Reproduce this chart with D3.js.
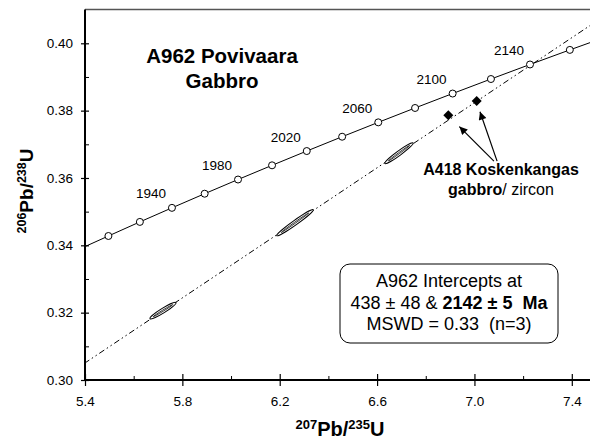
<!DOCTYPE html>
<html>
<head>
<meta charset="utf-8">
<script src="https://cdn.jsdelivr.net/npm/d3@7"></script>
<style>
  body { margin: 0; background: #fff; }
  text { font-family: "Liberation Sans", Arial, sans-serif; }
</style>
</head>
<body>
<div id="canvas"></div>
<script>
// concordia points, every 20 Ma
let ages = [1900, 1920, 1940, 1960, 1980, 2000, 2020, 2040, 2060, 2080, 2100, 2120, 2140, 2160];
let concX = [5.4962, 5.6254, 5.7572, 5.8916, 6.0287, 6.1685, 6.3111, 6.4565, 6.6049, 6.7561, 6.9104, 7.0678, 7.2283, 7.3919];
let concY = [0.34277, 0.34695, 0.35113, 0.35533, 0.35954, 0.36376, 0.36800, 0.37225, 0.37652, 0.38079, 0.38508, 0.38939, 0.39371, 0.39804];
let labelAges = [1940, 1980, 2020, 2060, 2100, 2140];

// curve ends (1885 Ma and 2180 Ma)
let curveX = [5.4].concat(concX, [7.5589]);
let curveY = [0.33963].concat(concY, [0.40238]);

// discordia: lower intercept 438 Ma, through upper intercept 2142 Ma
let discX = [0.53935, 7.6];
let discY = [0.07031, 0.41132];

// A962 error ellipses
let ellX = [5.7205, 6.2628, 6.690];
let ellY = [0.3206, 0.34672, 0.36736];
let ellDX = [0.0534, 0.0752, 0.058];
let ellDY = [0.00238, 0.00386, 0.00306];

// A418 zircon points
let diaX = [6.8926, 7.0093];
let diaY = [0.37862, 0.38287];

// arrows: tail -> tip
let arrowTail = [[7.080, 0.3650], [7.093, 0.3650]];
let arrowTip = [[6.938, 0.37526], [7.0228, 0.37969]];

let xMajor = [5.4, 5.8, 6.2, 6.6, 7.0, 7.4];
let xMinor = [5.6, 6.0, 6.4, 6.8, 7.2];
let yMajor = [0.30, 0.32, 0.34, 0.36, 0.38, 0.40];
let yMinor = [0.31, 0.33, 0.35, 0.37, 0.39];

let width = 590;
let height = 439;
let padL = 85, padB = 380, padT = 9.5;

var svg = d3.select("#canvas").append("svg")
    .attr("width", width)
    .attr("height", height);

var xScale = d3.scaleLinear().domain([5.4, 7.4]).range([padL, 571.8]);
var yScale = d3.scaleLinear().domain([0.30, 0.40]).range([padB, 43.3]);

var defs = svg.append("defs");
defs.append("clipPath").attr("id", "plot")
    .append("rect")
    .attr("x", padL).attr("y", padT)
    .attr("width", width - padL).attr("height", padB - padT);

defs.append("marker")
    .attr("id", "head")
    .attr("viewBox", "0 0 10 10")
    .attr("refX", 10).attr("refY", 5)
    .attr("markerWidth", 12).attr("markerHeight", 8)
    .attr("markerUnits", "userSpaceOnUse")
    .attr("orient", "auto")
    .append("path")
    .attr("d", "M0,0 L10,5 L0,10 z")
    .attr("fill", "#000");

var plot = svg.append("g").attr("clip-path", "url(#plot)");

// top frame line
svg.append("line")
    .attr("x1", padL).attr("x2", width)
    .attr("y1", padT).attr("y2", padT)
    .attr("stroke", "#555").attr("stroke-width", 1.5);

// discordia
plot.append("line")
    .attr("x1", xScale(discX[0])).attr("y1", yScale(discY[0]))
    .attr("x2", xScale(discX[1])).attr("y2", yScale(discY[1]))
    .attr("stroke", "#000").attr("stroke-width", 1)
    .attr("stroke-dasharray", "6,3,1.5,3,1.5,3");

// concordia curve
var line = d3.line()
    .x(d => xScale(d[0]))
    .y(d => yScale(d[1]))
    .curve(d3.curveMonotoneX);
plot.append("path")
    .datum(curveX.map((v, i) => [v, curveY[i]]))
    .attr("d", line)
    .attr("fill", "none")
    .attr("stroke", "#000")
    .attr("stroke-width", 1);

// error ellipses
ellX.forEach((cx, i) => {
    let px = xScale(cx), py = yScale(ellY[i]);
    let ex = xScale(cx + ellDX[i]) - px;
    let ey = yScale(ellY[i] + ellDY[i]) - py;
    let len = Math.sqrt(ex * ex + ey * ey);
    let ang = Math.atan2(ey, ex) * 180 / Math.PI;
    let g = plot.append("g").attr("transform", `translate(${px},${py}) rotate(${ang})`);
    g.append("ellipse").attr("rx", len).attr("ry", 2.3)
        .attr("fill", "#fff").attr("stroke", "#000").attr("stroke-width", 1);
    g.append("ellipse").attr("rx", len * 0.75).attr("ry", 0.6)
        .attr("fill", "none").attr("stroke", "#000").attr("stroke-width", 0.7);
});

// concordia age markers
plot.selectAll("circle.age")
    .data(ages)
    .enter().append("circle")
    .attr("class", "age")
    .attr("cx", (d, i) => xScale(concX[i]))
    .attr("cy", (d, i) => yScale(concY[i]))
    .attr("r", 3.5)
    .attr("fill", "#fff")
    .attr("stroke", "#000")
    .attr("stroke-width", 1);

svg.selectAll("text.age")
    .data(labelAges)
    .enter().append("text")
    .attr("class", "age")
    .attr("x", d => xScale(concX[ages.indexOf(d)]) - 21)
    .attr("y", d => yScale(concY[ages.indexOf(d)]) - 9.5)
    .attr("text-anchor", "middle")
    .attr("font-size", "13.5px")
    .text(d => d);

// A418 diamonds
plot.selectAll("path.dia")
    .data(diaX)
    .enter().append("path")
    .attr("class", "dia")
    .attr("transform", (d, i) => `translate(${xScale(d)},${yScale(diaY[i])})`)
    .attr("d", "M0,-5 L5,0 L0,5 L-5,0 Z")
    .attr("fill", "#000");

// arrows
arrowTail.forEach((t, i) => {
    svg.append("line")
        .attr("x1", xScale(t[0])).attr("y1", yScale(t[1]))
        .attr("x2", xScale(arrowTip[i][0])).attr("y2", yScale(arrowTip[i][1]))
        .attr("stroke", "#000").attr("stroke-width", 1.2)
        .attr("marker-end", "url(#head)");
});

// axes
var xAxis = svg.append("g").attr("transform", `translate(0,${padB})`)
    .call(d3.axisBottom(xScale).tickValues(xMajor).tickFormat(d3.format(".1f")).tickSize(6).tickPadding(10));
xAxis.selectAll(".tick line").attr("y1", -6).attr("stroke-width", 1.2);
xAxis.selectAll(".tick text").attr("font-size", "13.5px").attr("font-family", "Liberation Sans, Arial, sans-serif");
xAxis.select(".domain").remove();

var xAxisMinor = svg.append("g").attr("transform", `translate(0,${padB})`)
    .call(d3.axisBottom(xScale).tickValues(xMinor).tickSize(-4).tickFormat(""));
xAxisMinor.select(".domain").remove();

var yAxis = svg.append("g").attr("transform", `translate(${padL},0)`)
    .call(d3.axisLeft(yScale).tickValues(yMajor).tickFormat(d3.format(".2f")).tickSize(4).tickPadding(8));
yAxis.selectAll(".tick line").attr("x2", 4).attr("x1", -4).attr("stroke-width", 1.2);
yAxis.selectAll(".tick text").attr("font-size", "13.5px").attr("font-family", "Liberation Sans, Arial, sans-serif");
yAxis.select(".domain").remove();

var yAxisMinor = svg.append("g").attr("transform", `translate(${padL},0)`)
    .call(d3.axisLeft(yScale).tickValues(yMinor).tickSize(-4).tickFormat(""));
yAxisMinor.select(".domain").remove();

svg.append("line").attr("x1", padL).attr("x2", padL).attr("y1", padT).attr("y2", padB + 1)
    .attr("stroke", "#000").attr("stroke-width", 2);
svg.append("line").attr("x1", padL - 1).attr("x2", width).attr("y1", padB).attr("y2", padB)
    .attr("stroke", "#000").attr("stroke-width", 2);

// title
svg.append("text").attr("x", 222).attr("y", 63).attr("text-anchor", "middle")
    .attr("font-size", "20.5px").attr("font-weight", "bold").text("A962 Povivaara");
svg.append("text").attr("x", 222).attr("y", 88).attr("text-anchor", "middle")
    .attr("font-size", "20.5px").attr("font-weight", "bold").text("Gabbro");

// A418 label
svg.append("text").attr("x", 501).attr("y", 175).attr("text-anchor", "middle")
    .attr("font-size", "16px").attr("font-weight", "bold").text("A418 Koskenkangas");
var t2 = svg.append("text").attr("x", 501).attr("y", 195).attr("text-anchor", "middle")
    .attr("font-size", "16px");
t2.append("tspan").attr("font-weight", "bold").text("gabbro");
t2.append("tspan").text("/ zircon");

// intercept box
svg.append("rect").attr("x", 340).attr("y", 264).attr("width", 218).attr("height", 79)
    .attr("rx", 10).attr("ry", 10)
    .attr("fill", "#fff").attr("stroke", "#000").attr("stroke-width", 1);
svg.append("text").attr("x", 449).attr("y", 287).attr("text-anchor", "middle")
    .attr("font-size", "18px").text("A962 Intercepts at");
var t3 = svg.append("text").attr("x", 449).attr("y", 308.5).attr("text-anchor", "middle")
    .attr("font-size", "18px").attr("xml:space", "preserve");
t3.append("tspan").text("438 \u00b1 48 & ");
t3.append("tspan").attr("font-weight", "bold").text("2142 \u00b1 5  Ma");
svg.append("text").attr("x", 449).attr("y", 330).attr("text-anchor", "middle")
    .attr("font-size", "18px").attr("xml:space", "preserve").text("MSWD = 0.33  (n=3)");

// axis titles
var xl = svg.append("text").attr("x", 340).attr("y", 436).attr("text-anchor", "middle")
    .attr("font-weight", "bold").attr("font-size", "20px");
xl.append("tspan").attr("font-size", "13px").attr("dy", -7).text("207");
xl.append("tspan").attr("dy", 7).text("Pb/");
xl.append("tspan").attr("font-size", "13px").attr("dy", -7).text("235");
xl.append("tspan").attr("dy", 7).text("U");

var yl = svg.append("text").attr("transform", "translate(33,191) rotate(-90)")
    .attr("text-anchor", "middle")
    .attr("font-weight", "bold").attr("font-size", "19px");
yl.append("tspan").attr("font-size", "12.5px").attr("dy", -7).text("206");
yl.append("tspan").attr("dy", 7).text("Pb/");
yl.append("tspan").attr("font-size", "12.5px").attr("dy", -7).text("238");
yl.append("tspan").attr("dy", 7).text("U");
</script>
</body>
</html>
